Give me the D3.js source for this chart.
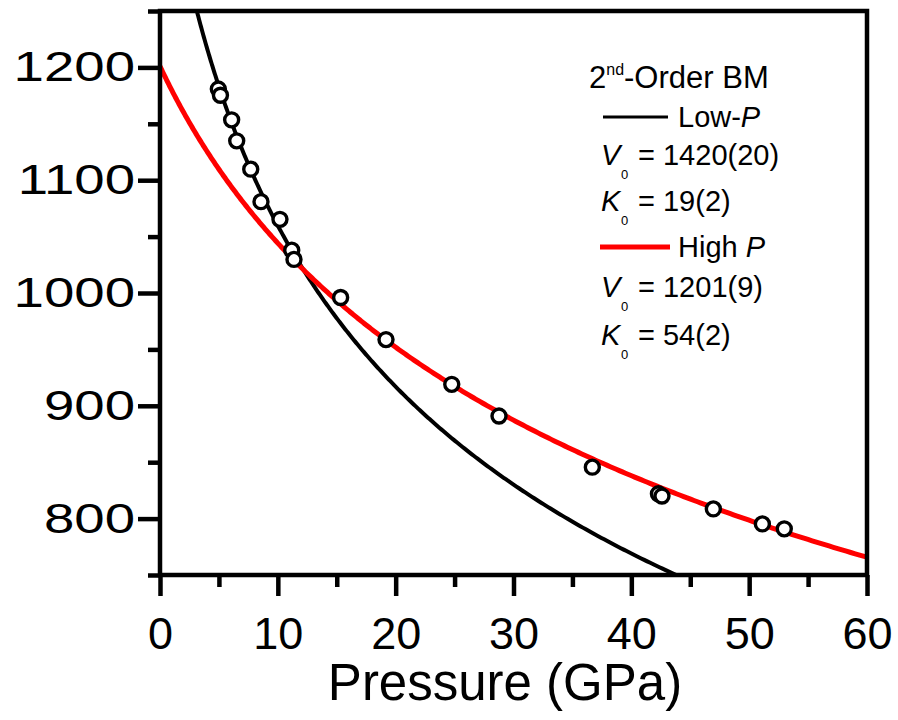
<!DOCTYPE html>
<html>
<head>
<meta charset="utf-8">
<script src="https://cdn.jsdelivr.net/npm/d3@7"></script>
<style>
  html, body { margin: 0; padding: 0; background: #fff; }
  svg { display: block; font-family: "Liberation Sans", Arial, sans-serif; }
</style>
</head>
<body>
<svg id="chart" width="898" height="720"></svg>
<script>
// Measured volumes (Å^3) against pressure (GPa)
const pressure = [4.95, 5.13, 6.08, 6.51, 7.70, 8.57, 10.18, 11.18, 11.37,
                  15.33, 19.18, 24.76, 28.77, 36.69, 42.3, 42.6, 46.96, 51.12, 52.98];
const volume   = [1180.8, 1175.3, 1153.5, 1134.9, 1109.8, 1081.0, 1065.3, 1038.0, 1029.8,
                  996.0, 958.7, 919.0, 890.9, 845.6, 822.0, 820.0, 808.6, 795.3, 790.9];

// Second-order Birch–Murnaghan fit parameters
const fitNames = ["Low-P", "High P"];
const fitV0 = [1420, 1201];
const fitK0 = [19, 54];
const fitV0err = ["20", "9"];
const fitK0err = ["2", "2"];
const fitColors = ["#000000", "#ff0000"];

const xTicks = [0, 10, 20, 30, 40, 50, 60];
const xMinorTicks = [5, 15, 25, 35, 45, 55];
const yTicks = [800, 900, 1000, 1100, 1200];
const yMinorTicks = [750, 850, 950, 1050, 1150, 1250];

const svg = d3.select("#chart");
const plotL = 160, plotR = 867, plotT = 11, plotB = 575;

const x = d3.scaleLinear().domain([0, 60]).range([plotL, plotR]);
const y = d3.scaleLinear().domain([750, 1250]).range([plotB, plotT]);

// BM2 equation of state: P(V)
function bm2(V, V0, K0) {
  const r = V0 / V;
  return 1.5 * K0 * (Math.pow(r, 7 / 3) - Math.pow(r, 5 / 3));
}

svg.append("defs").append("clipPath").attr("id", "plotClip")
  .append("rect").attr("x", plotL).attr("y", plotT)
  .attr("width", plotR - plotL).attr("height", plotB - plotT);

// Fitted curves
const curves = svg.append("g").attr("clip-path", "url(#plotClip)");
fitV0.forEach((V0, i) => {
  const vStart = Math.min(V0, 1260);
  const pts = d3.range(0, 401).map(k => {
    const V = vStart - k * (vStart - 740) / 400;
    return [bm2(V, V0, fitK0[i]), V];
  });
  curves.append("path")
    .datum(pts)
    .attr("fill", "none")
    .attr("stroke", fitColors[i])
    .attr("stroke-width", i === 0 ? 4 : 5)
    .attr("d", d3.line().x(d => x(d[0])).y(d => y(d[1])));
});

// Data points
svg.append("g").selectAll("circle")
  .data(pressure.map((p, i) => [p, volume[i]]))
  .join("circle")
  .attr("cx", d => x(d[0]))
  .attr("cy", d => y(d[1]))
  .attr("r", 7)
  .attr("fill", "#fff")
  .attr("stroke", "#000")
  .attr("stroke-width", 3.4);

// Axes
const axisW = 4.5;
function styleAxis(g) {
  g.select(".domain").remove();
  g.selectAll("line").attr("stroke", "#000").attr("stroke-width", axisW);
  g.selectAll("text").attr("fill", "#000").attr("font-family", "Liberation Sans, Arial, sans-serif");
}

svg.append("g").attr("transform", `translate(0,${plotB})`)
  .call(d3.axisBottom(x).tickValues(xTicks).tickSize(21).tickPadding(21).tickFormat(d3.format("d")))
  .call(styleAxis)
  .selectAll("text").attr("font-size", 45);
svg.append("g").attr("transform", `translate(0,${plotB})`)
  .call(d3.axisBottom(x).tickValues(xMinorTicks).tickSize(12).tickFormat(""))
  .call(styleAxis);

svg.append("g").attr("transform", `translate(${plotL},0)`)
  .call(d3.axisLeft(y).tickValues(yTicks).tickSize(22).tickFormat(d3.format("d")))
  .call(styleAxis)
  .selectAll("text")
  .attr("font-size", 42)
  .attr("x", 0)
  .attr("transform", "translate(-25,0) scale(1.3,1)");
svg.append("g").attr("transform", `translate(${plotL},0)`)
  .call(d3.axisLeft(y).tickValues(yMinorTicks).tickSize(12).tickFormat(""))
  .call(styleAxis);

// Frame
svg.append("rect")
  .attr("x", plotL).attr("y", plotT)
  .attr("width", plotR - plotL).attr("height", plotB - plotT)
  .attr("fill", "none").attr("stroke", "#000").attr("stroke-width", axisW);

// Axis title
svg.append("text")
  .attr("x", 505).attr("y", 700)
  .attr("text-anchor", "middle")
  .attr("font-size", 51)
  .text("Pressure (GPa)");

// Legend
const lg = svg.append("g").attr("font-size", 29).attr("fill", "#000");
const title = lg.append("text").attr("x", 589).attr("y", 88).attr("font-size", 31);
title.append("tspan").text("2");
title.append("tspan").attr("font-size", 16).attr("dy", -13).text("nd");
title.append("tspan").attr("dy", 13).text("-Order BM");

function paramLine(sym, value, baseY) {
  lg.append("text").attr("x", 601).attr("y", baseY)
    .attr("font-style", "italic").text(sym);
  lg.append("text").attr("x", 621).attr("y", baseY + 14)
    .attr("font-size", 13).text("0");
  lg.append("text").attr("x", 638).attr("y", baseY).text("= " + value);
}

const legendRows = [
  { lineY: 117, textY: 127, v0Y: 165, k0Y: 211 },
  { lineY: 247, textY: 257, v0Y: 297, k0Y: 345 }
];

legendRows.forEach((row, i) => {
  lg.append("line")
    .attr("x1", i === 0 ? 603 : 600).attr("x2", i === 0 ? 668 : 670)
    .attr("y1", row.lineY).attr("y2", row.lineY)
    .attr("stroke", fitColors[i]).attr("stroke-width", i === 0 ? 3 : 5);
  const t = lg.append("text").attr("x", 678).attr("y", row.textY);
  if (i === 0) {
    t.append("tspan").text("Low-");
    t.append("tspan").attr("font-style", "italic").text("P");
  } else {
    t.append("tspan").text("High ");
    t.append("tspan").attr("font-style", "italic").text("P");
  }
  paramLine("V", `${fitV0[i]}(${fitV0err[i]})`, row.v0Y);
  paramLine("K", `${fitK0[i]}(${fitK0err[i]})`, row.k0Y);
});
</script>
</body>
</html>
